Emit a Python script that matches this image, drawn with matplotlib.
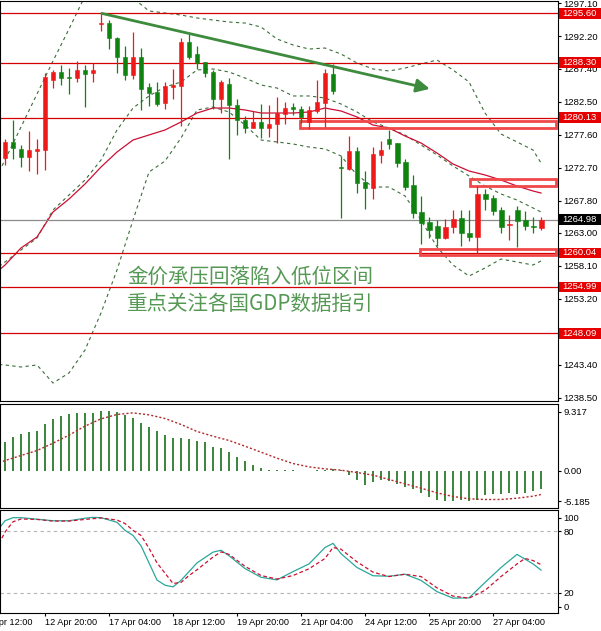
import matplotlib
matplotlib.use('Agg')
import matplotlib.pyplot as plt
import matplotlib.transforms as mtransforms
from matplotlib.patches import Rectangle
import numpy as np

plt.rcParams['font.family'] = ['Liberation Sans', 'DejaVu Sans']

# XAUUSD H4, bar 0 = 12 Apr 00:00
opens = [1274.17, 1276.45, 1275.41, 1274.32, 1275.21, 1275.31, 1285.71, 1286.95, 1286.11, 1286.06,
         1287.20, 1286.70, 1293.98, 1294.12, 1291.90, 1289.17, 1286.45, 1289.17, 1284.62, 1283.98,
         1282.34, 1284.72, 1284.82, 1291.30, 1289.57, 1288.33, 1286.95, 1282.84, 1285.12, 1282.00,
         1279.77, 1278.63, 1279.52, 1278.63, 1279.12, 1280.61, 1281.75, 1281.36, 1279.53, 1281.11,
         1282.35, 1286.60, 1272.84, 1272.45, 1275.17, 1270.57, 1269.72, 1274.58, 1276.90, 1276.31,
         1273.49, 1270.12, 1266.16, 1264.67, 1264.03, 1262.20, 1263.83, 1265.17, 1262.94, 1262.44,
         1268.78, 1268.14, 1266.40, 1264.13, 1266.40, 1264.92, 1264.03, 1263.68]
highs = [1276.90, 1279.77, 1276.06, 1278.13, 1276.90, 1286.80, 1287.20, 1287.94, 1287.44, 1288.53,
         1287.94, 1288.28, 1295.61, 1294.62, 1292.15, 1290.76, 1292.79, 1290.41, 1285.21, 1285.46,
         1285.46, 1287.29, 1291.90, 1292.64, 1290.76, 1288.43, 1287.20, 1285.71, 1285.96, 1282.84,
         1280.36, 1281.10, 1282.15, 1281.99, 1283.23, 1282.49, 1282.34, 1281.85, 1281.85, 1285.71,
         1287.30, 1288.10, 1274.43, 1277.40, 1275.71, 1272.20, 1275.71, 1276.70, 1278.29, 1276.41,
         1273.93, 1271.61, 1268.50, 1265.41, 1264.92, 1265.02, 1266.40, 1266.40, 1266.40, 1269.97,
         1269.47, 1268.63, 1266.80, 1265.66, 1267.00, 1266.30, 1265.32, 1265.32]
lows = [1273.09, 1273.93, 1272.84, 1272.24, 1271.70, 1272.34, 1284.57, 1284.97, 1283.63, 1285.46,
        1281.75, 1285.46, 1293.04, 1290.26, 1286.70, 1285.71, 1285.81, 1281.25, 1281.85, 1281.85,
        1281.35, 1282.84, 1278.88, 1288.78, 1287.29, 1286.10, 1281.35, 1280.76, 1273.93, 1277.54,
        1277.89, 1278.53, 1277.05, 1277.29, 1276.30, 1279.17, 1280.51, 1279.38, 1278.39, 1280.76,
        1278.78, 1283.64, 1265.17, 1272.35, 1268.98, 1266.50, 1268.00, 1273.34, 1275.42, 1272.84,
        1269.38, 1265.17, 1261.35, 1262.20, 1261.06, 1262.05, 1262.94, 1261.06, 1261.85, 1259.97,
        1266.40, 1265.66, 1262.94, 1261.95, 1260.96, 1263.43, 1262.94, 1263.43]
closes = [1276.55, 1275.56, 1274.32, 1275.31, 1275.41, 1286.20, 1286.95, 1286.06, 1285.96, 1287.20,
          1286.55, 1287.20, 1294.22, 1291.90, 1289.17, 1286.45, 1289.17, 1284.32, 1283.83, 1282.15,
          1284.82, 1284.97, 1291.40, 1289.07, 1288.18, 1286.80, 1282.84, 1285.46, 1282.00, 1279.77,
          1278.63, 1279.52, 1278.63, 1279.17, 1280.76, 1281.60, 1281.35, 1280.27, 1281.26, 1282.50,
          1286.70, 1284.13, 1272.60, 1275.17, 1270.47, 1269.72, 1274.72, 1275.32, 1276.21, 1273.44,
          1269.87, 1266.01, 1264.52, 1263.43, 1262.20, 1263.83, 1265.02, 1263.04, 1262.44, 1268.78,
          1268.04, 1266.30, 1263.93, 1264.28, 1264.82, 1264.03, 1263.83, 1264.98]

# indicator lines (bar index -> value)
line_idx = [-1] + list(range(0, 67, 2)) + [67]
bb_upper = [1271.5, 1273.83, 1278.73, 1283.63, 1288.53, 1293.28, 1298.18, 1300.26, 1299.37, 1297.89,
            1295.96, 1295.66, 1295.36, 1294.92, 1294.62, 1294.32, 1294.17, 1293.58, 1291.80, 1290.91,
            1290.31, 1290.46, 1289.57, 1288.24, 1287.35, 1287.05, 1287.49, 1288.09, 1288.68, 1287.20,
            1285.42, 1280.81, 1277.69, 1276.51, 1275.32, 1273.39]
bb_middle = [1257.8, 1258.69, 1260.47, 1262.25, 1266.41, 1268.64, 1270.86, 1273.83, 1278.29, 1281.55,
             1283.34, 1284.67, 1285.41, 1287.20, 1287.35, 1286.90, 1286.01, 1284.97, 1284.52, 1283.34,
             1283.34, 1283.04, 1282.15, 1280.96, 1279.48, 1278.58, 1277.55, 1276.06, 1274.58, 1272.94,
             1271.46, 1269.97, 1268.79, 1267.89, 1266.71, 1266.11]
bb_lower = [1243.5, 1243.40, 1243.10, 1243.40, 1240.72, 1242.21, 1245.62, 1251.12, 1257.50, 1264.92,
            1272.05, 1273.68, 1277.10, 1281.26, 1281.70, 1280.96, 1279.03, 1276.80, 1276.51, 1276.21,
            1275.76, 1275.47, 1274.43, 1271.61, 1269.82, 1269.82, 1268.49, 1264.92, 1260.92, 1258.24,
            1256.61, 1257.80, 1259.13, 1258.69, 1258.24, 1258.84]
ma_red = [1257.2, 1258.24, 1260.77, 1262.40, 1266.11, 1268.04, 1270.27, 1272.79, 1275.02, 1276.80,
          1277.55, 1278.29, 1279.48, 1280.81, 1281.55, 1281.55, 1281.26, 1280.81, 1280.81, 1280.81,
          1280.96, 1281.55, 1281.11, 1280.22, 1279.03, 1278.58, 1277.40, 1276.36, 1274.87, 1273.24,
          1272.20, 1271.61, 1270.86, 1269.97, 1269.23, 1268.93]

macd_hist = [3.97, 4.67, 5.09, 5.37, 5.47, 6.50, 7.15, 7.62, 7.85, 7.99,
             7.99, 7.99, 8.41, 8.41, 8.18, 7.71, 7.34, 6.59, 6.03, 5.47,
             4.95, 4.49, 4.49, 4.44, 4.11, 3.97, 3.36, 3.18, 2.57, 1.92,
             1.40, 0.84, 0.42, 0.14, 0.09, 0.05, 0.02, -0.01, -0.02, 0.03,
             0.14, 0.28, 0.05, -0.56, -1.36, -1.96, -1.64, -1.36, -1.50, -1.82,
             -2.29, -2.66, -3.22, -3.74, -4.07, -4.30, -4.30, -4.16, -4.30, -4.07,
             -3.50, -3.27, -3.27, -3.22, -3.36, -3.13, -2.90, -2.66]
macd_signal = [0.95, 1.40, 2.10, 2.80, 3.83, 4.95, 6.22, 7.24, 7.85, 8.08,
               7.80, 7.29, 6.45, 5.47, 4.81, 4.21, 3.41, 2.57, 1.73, 0.98,
               0.51, 0.23, 0.05, -0.28, -0.65, -1.26, -1.87, -2.47, -3.13, -3.64,
               -3.97, -4.06, -4.06, -3.88, -3.60, -3.36]

stoch_main_idx = [-1, 0, 1, 2, 4, 6, 8, 10, 11, 12, 14, 15, 16, 17, 18, 19, 20, 21, 22, 24,
                  26, 27, 28, 30, 32, 34, 36, 38, 40, 41, 42, 44, 46, 48, 50, 52, 54, 56, 58, 60,
                  62, 64, 66, 67]
stoch_main = [80, 90, 93, 93, 91.5, 90, 90, 92.5, 93.3, 93, 88.5, 80.7, 75.7, 65.7, 49, 32.3, 27.3, 25.7, 32, 49,
              59.5, 61.3, 56, 43.5, 35, 32.5, 40.5, 48, 64, 68, 58, 44.5, 36.5, 36, 38, 32, 21, 14.7, 15, 30,
              44.5, 57.3, 48, 42]
stoch_sig_idx = [-1, 0, 1, 2, 4, 6, 8, 10, 12, 14, 15, 16, 17, 18, 19, 20, 21, 22, 23, 24,
                 26, 27, 28, 30, 32, 34, 36, 38, 40, 41, 42, 44, 46, 48, 50, 52, 54, 56, 58, 60,
                 62, 64, 65, 66, 67]
stoch_sig = [64, 79, 89, 91.7, 91.3, 89.7, 89.7, 91.3, 92.7, 90.7, 87.3, 80.7, 75.7, 63.3, 49, 39, 29, 30, 36.7, 42.3,
             54.7, 59.7, 57.3, 45.7, 36.7, 33.3, 36.7, 43.3, 53.3, 64, 62.3, 50, 40, 35.7, 38, 35.7, 24.7, 16.7, 14.7, 22.3,
             35.7, 48, 53.3, 51.3, 47.3]

price_ticks = [1297.10, 1292.20, 1287.40, 1282.50, 1277.60, 1272.70, 1267.80, 1263.00,
               1258.10, 1253.20, 1248.30, 1243.40, 1238.50]
levels = [1295.60, 1288.30, 1280.13, 1260.04, 1254.99, 1248.09]
last_price = 1264.98
# zones: (start bar, end bar, low, high)
zones = [(36.9, 68.9, 1278.54, 1279.67),
         (58.1, 68.9, 1270.02, 1271.01),
         (51.9, 68.9, 1259.73, 1260.62)]

# MT4 writes the range ends a little inside the window
macd_labels = ['9.317', '0.00', '-5.185']
macd_label_pos = [8.25, 0.0, -4.3]
stoch_labels = ['100', '80', '20', '0']
stoch_label_pos = [93, 80, 20, 6.5]

time_idx = [5, 13, 21, 29, 37, 45, 53, 61]
time_labels = ['12 Apr 20:00', '17 Apr 04:00', '18 Apr 12:00', '19 Apr 20:00',
               '21 Apr 04:00', '24 Apr 12:00', '25 Apr 20:00', '27 Apr 04:00']

note_lines = ['金价承压回落陷入低位区间', '重点关注各国GDP数据指引']

UP = '#ee1a1a'
DOWN = '#0f820f'
LEVEL = '#d40000'


def price_box(ax, y, text, color):
    tr = mtransforms.blended_transform_factory(ax.transAxes, ax.transData)
    ax.add_patch(Rectangle((1.002, y - 0.78), 0.08, 1.56, transform=tr,
                           facecolor=color, edgecolor='none', clip_on=False, zorder=5))
    ax.text(1.0 + 4.5 / 558, y, text, transform=tr, ha='left', va='center',
            fontsize=6.8, color='white', clip_on=False, zorder=6)


def main():
    fig = plt.figure(figsize=(6.01, 6.31), dpi=100)
    ax1 = fig.add_axes([0.0, 0.3645, 0.9285, 0.6339])
    ax2 = fig.add_axes([0.0, 0.1957, 0.9285, 0.1640])
    ax3 = fig.add_axes([0.0, 0.0281, 0.9285, 0.1629])

    x = np.arange(len(opens))
    o = np.array(opens)
    c = np.array(closes)
    up = c >= o

    # price panel
    for lv in levels:
        ax1.axhline(lv, color=LEVEL, lw=0.9, zorder=2)
    ax1.axhline(last_price, color='#8c8c8c', lw=0.9, zorder=2)

    ax1.plot(line_idx, bb_upper, color='#3a6e3a', lw=0.8, ls=(0, (3, 3)), zorder=1.5)
    ax1.plot(line_idx, bb_middle, color='#3a6e3a', lw=0.8, ls=(0, (3, 3)), zorder=1.5)
    ax1.plot(line_idx, bb_lower, color='#3a6e3a', lw=0.8, ls=(0, (3, 3)), zorder=1.5)
    ax1.plot(line_idx, ma_red, color='#cc1034', lw=0.9, zorder=1.6)

    for z in zones:
        ax1.add_patch(Rectangle((z[0], z[2]), z[1] - z[0], z[3] - z[2], facecolor='none',
                                edgecolor='#f04848', lw=2.0, zorder=2.5))

    colors = np.where(up, UP, DOWN)
    ax1.vlines(x, lows, highs, colors=colors, lw=0.9, zorder=3)
    body_low = np.minimum(o, c)
    body_h = np.maximum(np.abs(c - o), 0.15)
    ax1.bar(x, body_h, bottom=body_low, width=0.62, color=colors, edgecolor=colors,
            lw=0.4, zorder=3.2)

    ax1.annotate('', xy=(53.1, 1284.4), xytext=(12.1, 1295.6),
                 arrowprops=dict(arrowstyle='-|>,head_length=0.8,head_width=0.4',
                                 color='#3d8b3d', lw=2.0, shrinkA=0, shrinkB=0),
                 zorder=4)

    for txt, yv in zip(note_lines, [1256.5, 1252.5]):
        ax1.text(15.25, yv, txt, fontsize=14.8, color='#559955', va='center', ha='left',
                 fontweight='light', family=['Noto Sans CJK SC', 'DejaVu Sans'], zorder=4)

    ax1.set_ylim(1238.05, 1297.44)
    ax1.set_yticks(price_ticks)
    ax1.set_yticklabels(['%.2f' % t for t in price_ticks])

    for lv in levels:
        price_box(ax1, lv, '%.2f' % lv, '#e60000')
    price_box(ax1, last_price, '%.2f' % last_price, '#000000')

    # MACD panel
    ax2.vlines(x, 0, macd_hist, color='#2b7d2b', lw=1.3)
    ax2.plot(line_idx, macd_signal, color='#b22a2a', lw=1.0, ls=(0, (1.5, 1.5)))
    ax2.set_ylim(-5.185, 9.317)
    ax2.set_yticks(macd_label_pos)
    ax2.set_yticklabels(macd_labels)

    # Stochastic panel
    ax3.axhline(80, color='#b4b4b4', lw=0.8, ls=(0, (3, 3)))
    ax3.axhline(20, color='#b4b4b4', lw=0.8, ls=(0, (3, 3)))
    ax3.plot(stoch_main_idx, stoch_main, color='#2aa79b', lw=0.9)
    ax3.plot(stoch_sig_idx, stoch_sig, color='#cc1030', lw=0.9, ls=(0, (3, 2)))
    ax3.set_ylim(0, 100)
    ax3.set_yticks(stoch_label_pos)
    ax3.set_yticklabels(stoch_labels)

    ax3.set_xticks(time_idx)
    ax3.set_xticklabels(time_labels)
    for lbl in ax3.get_xticklabels():
        lbl.set_ha('left')
    ax3.tick_params(axis='x', direction='out', length=2.5, pad=1, labelsize=6.6)
    # first label starts left of the window, only its tail shows
    ax3.annotate('11 Apr 12:00', xy=(-3, 0), xycoords=('data', 'axes fraction'),
                 xytext=(0, -3.5), textcoords='offset points', ha='left', va='top',
                 fontsize=6.6, annotation_clip=False)

    for ax in (ax1, ax2, ax3):
        ax.set_xlim(-0.625, 69.125)
        ax.yaxis.tick_right()
        ax.tick_params(axis='y', direction='out', length=2.5, pad=1.5, labelsize=6.8)
        for sp in ax.spines.values():
            sp.set_color('black')
            sp.set_linewidth(0.8)
        ax.set_facecolor('white')
    ax1.set_xticks([])
    ax2.set_xticks([])

    fig.savefig('out.png', dpi=100, facecolor='white')


main()
